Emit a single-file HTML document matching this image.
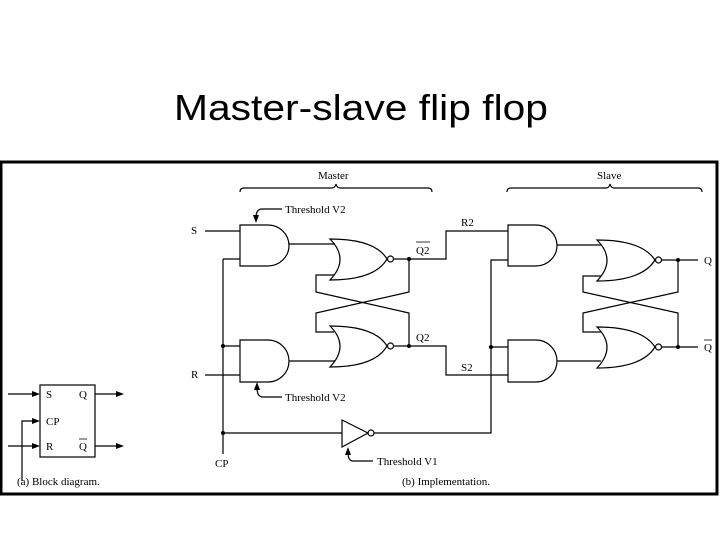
<!DOCTYPE html>
<html><head><meta charset="utf-8"><style>
html,body{margin:0;padding:0;background:#fff;}
svg{display:block;}
text{font-family:"Liberation Serif",serif;fill:#000;}
</style></head><body>
<svg width="720" height="540" viewBox="0 0 720 540" xmlns="http://www.w3.org/2000/svg">
<rect x="0" y="0" width="720" height="540" fill="#fff"/>
<text x="174" y="120" style="font-family:'Liberation Sans',sans-serif;font-size:36px" textLength="374" lengthAdjust="spacingAndGlyphs">Master-slave flip flop</text>
<rect x="1" y="162" width="716" height="332" fill="none" stroke="#000" stroke-width="3"/>

<g fill="none" stroke="#000" stroke-width="1.2">
<path d="M240 192 q0 -4 4 -4 H332 q3 0 4 -4 q1 4 4 4 H428 q4 0 4 4"/>
<path d="M507 192 q0 -4 4 -4 H606 q3 0 4 -4 q1 4 4 4 H698 q4 0 4 4"/>

<path d="M240 225 H268 A21 20.5 0 0 1 268 266 H240 Z"/>
<path d="M240 340 H268 A21 21 0 0 1 268 382 H240 Z"/>
<path d="M330 239 Q350 259 330 280 Q375 280 387 259 Q375 239 330 239 Z"/>
<path d="M330 326 Q350 346 330 367 Q375 367 387 346 Q375 326 330 326 Z"/>
<circle cx="390.5" cy="259" r="3"/>
<circle cx="390.5" cy="346" r="3"/>
<path d="M508 225 H536 A21 20.5 0 0 1 536 266 H508 Z"/>
<path d="M508 340 H536 A21 21 0 0 1 536 382 H508 Z"/>
<path d="M597 240 Q617 260 597 281 Q642 281 655 260 Q642 240 597 240 Z"/>
<path d="M597 327 Q617 347 597 368 Q642 368 655 347 Q642 327 597 327 Z"/>
<circle cx="658.5" cy="260" r="3"/>
<circle cx="658.5" cy="347" r="3"/>

<path d="M205 231 H240"/>
<path d="M223 259 H240 M223 259 V454"/>
<path d="M223 346 H240"/>
<path d="M205 375 H240"/>
<path d="M289 244 H335"/>
<path d="M289 361 H335"/>
<path d="M394 259 H446 V231 H508"/>
<path d="M394 346 H446 V375 H508"/>
<path d="M409 259 V292 L316 313 V332 H334"/>
<path d="M409 346 V313 L316 292 V275 H334"/>
<path d="M223 433 H342"/>
<path d="M342 420 L368 433 L342 447 Z"/>
<circle cx="371" cy="433" r="3"/>
<path d="M374 433 H491 V260 H508"/>
<path d="M491 347 H508"/>
<path d="M557 245 H601"/>
<path d="M557 361 H601"/>
<path d="M662 260 H698"/>
<path d="M662 347 H698"/>
<path d="M678 260 V292 L583 313 V332 H601"/>
<path d="M678 347 V313 L583 292 V276 H601"/>

<path d="M282 209 H262 Q256 209 256 218"/>
<path d="M282 397 H263 Q257 397 257 388"/>
<path d="M373 461 H353 Q348 461 348 452"/>

<rect x="40" y="385" width="55" height="72"/>
<path d="M8 394 H34 M8 446 H34 M22 481 V421 H34 M95 394 H118 M95 446 H118"/>
</g>
<g fill="#000">
<circle cx="409" cy="259" r="2"/><circle cx="409" cy="346" r="2"/>
<circle cx="223" cy="346" r="2"/><circle cx="223" cy="433" r="2"/>
<circle cx="491" cy="347" r="2"/>
<circle cx="678" cy="260" r="2"/><circle cx="678" cy="347" r="2"/>
<path d="M256 223 L253 215 L259 215 Z"/>
<path d="M257 382 L254 390 L260 390 Z"/>
<path d="M348 447 L345 455 L351 455 Z"/>
<path d="M40 394 L32 391 L32 397 Z"/><path d="M40 421 L32 418 L32 424 Z"/><path d="M40 446 L32 443 L32 449 Z"/>
<path d="M124 394 L116 391 L116 397 Z"/><path d="M124 446 L116 443 L116 449 Z"/>
</g>

<g font-size="11">
<text x="318" y="179">Master</text>
<text x="597" y="179">Slave</text>
<text x="285" y="213">Threshold V2</text>
<text x="285" y="401">Threshold V2</text>
<text x="377" y="465">Threshold V1</text>
<text x="191" y="234">S</text>
<text x="191" y="378">R</text>
<text x="215" y="467">CP</text>
<text x="461" y="226">R2</text>
<text x="461" y="371">S2</text>
<text x="416" y="254">Q2</text>
<line x1="416" y1="242" x2="430" y2="242" stroke="#000" stroke-width="0.8"/>
<text x="416" y="341">Q2</text>
<text x="704" y="264">Q</text>
<text x="704" y="351">Q</text>
<line x1="704" y1="340" x2="712" y2="340" stroke="#000" stroke-width="0.8"/>
<text x="46" y="398">S</text>
<text x="79" y="398">Q</text>
<text x="46" y="425">CP</text>
<text x="46" y="450">R</text>
<text x="79" y="450">Q</text>
<line x1="79" y1="439" x2="87" y2="439" stroke="#000" stroke-width="0.8"/>
<text x="17" y="485">(a)  Block diagram.</text>
<text x="402" y="485">(b)  Implementation.</text>
</g>
</svg>
</body></html>
